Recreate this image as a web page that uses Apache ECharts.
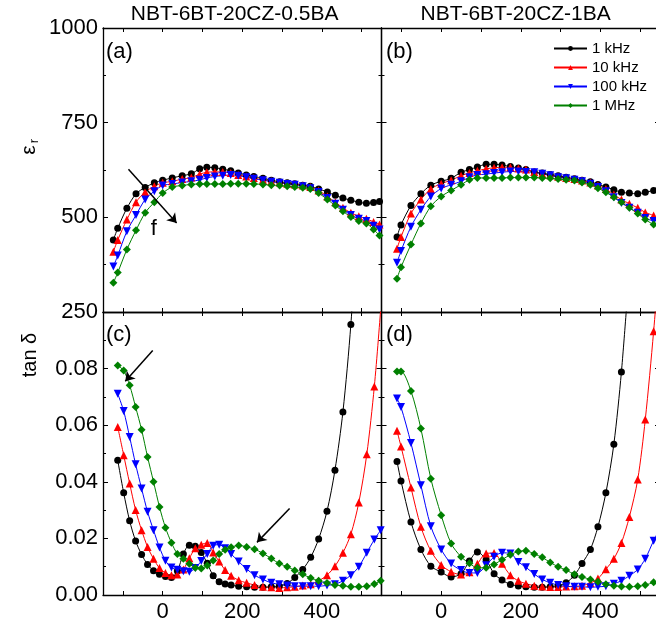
<!DOCTYPE html>
<html>
<head>
<meta charset="utf-8">
<script src="https://cdn.jsdelivr.net/npm/echarts@6/dist/echarts.min.js"></script>
<style>
html, body { margin: 0; padding: 0; background: #fff; }
#main { width: 656px; height: 623px; }
</style>
</head>
<body>
<div id="main"></div>
<script>
// frequencies (legend)
var freqNames = ['1 kHz', '10 kHz', '100 kHz', '1 MHz'];
var panelTitles = ['NBT-6BT-20CZ-0.5BA', 'NBT-6BT-20CZ-1BA'];
var xTickVals = [-100, 0, 100, 200, 300, 400, 500];
var xLabelVals = [0, 200, 400];

// (a) permittivity, NBT-6BT-20CZ-0.5BA
var tempA = [-124, -113, -90, -67, -44, -21, 0, 24, 49, 72, 93, 111, 131, 151, 171, 190, 210, 229, 252, 273, 294, 313, 332, 352, 371, 392, 414, 434, 453, 473, 493, 512, 530, 545];
var epsA1k = [440, 471, 524, 562, 579, 591, 598, 604, 610, 615, 628, 632, 631, 627, 623, 617, 612, 608, 603, 598, 594, 591, 589, 585, 582, 575, 567, 558, 551, 545, 540, 537, 539, 542];
var epsA10k = [409, 440, 494, 540, 567, 582, 591, 595, 601, 605, 614, 619, 620, 620, 617, 612, 608, 604, 599, 595, 592, 589, 587, 584, 580, 571, 555, 540, 525, 512, 503, 496, 488, 481];
var epsA100k = [370, 399, 463, 506, 547, 569, 584, 588, 592, 595, 599, 604, 608, 610, 612, 610, 606, 602, 598, 594, 591, 588, 586, 582, 577, 567, 551, 536, 520, 506, 496, 490, 478, 468];
var epsA1M = [327, 354, 415, 466, 512, 540, 564, 580, 584, 587, 588, 588, 588, 588, 589, 589, 589, 588, 587, 585, 584, 582, 580, 578, 575, 564, 547, 531, 516, 501, 490, 484, 468, 452];

// (b) and (d), NBT-6BT-20CZ-1BA
var tempB = [-111, -101, -76, -51, -26, 0, 25, 50, 71, 91, 113, 133, 153, 174, 194, 213, 234, 254, 274, 294, 314, 335, 354, 375, 394, 414, 434, 453, 473, 494, 513, 534, 552];
var epsB1k = [448, 480, 531, 562, 585, 595, 603, 619, 626, 633, 640, 640, 638, 634, 630, 626, 620, 617, 613, 610, 606, 602, 598, 594, 587, 580, 573, 566, 564, 562, 566, 571];
var epsB10k = [417, 448, 510, 547, 575, 589, 598, 610, 617, 623, 628, 631, 632, 632, 629, 626, 620, 615, 611, 607, 604, 601, 597, 592, 584, 575, 560, 547, 536, 525, 513, 505];
var epsB100k = [380, 411, 475, 520, 555, 576, 586, 595, 606, 612, 614, 617, 619, 621, 621, 620, 619, 615, 611, 606, 603, 599, 595, 589, 580, 569, 553, 538, 525, 512, 498, 490];
var epsB1M = [338, 368, 428, 484, 529, 555, 571, 586, 599, 604, 604, 604, 604, 605, 605, 605, 605, 604, 603, 601, 599, 597, 592, 586, 577, 566, 553, 540, 525, 510, 494, 481];

// (c) loss, NBT-6BT-20CZ-0.5BA
var tempC = [-113, -98, -83, -68, -53, -38, -23, -8, 7, 22, 37, 52, 67, 82, 97, 112, 127, 142, 157, 172, 191, 211, 231, 252, 273, 293, 313, 332, 352, 372, 392, 413, 433, 453, 473, 493, 513, 532, 548];
var tanC1k = [0.0476, 0.0361, 0.0262, 0.0191, 0.0143, 0.0108, 0.0086, 0.0073, 0.0065, 0.0062, 0.0085, 0.0145, 0.0176, 0.0172, 0.0150, 0.0112, 0.0068, 0.0047, 0.0039, 0.0035, 0.0031, 0.0029, 0.0027, 0.0027, 0.0029, 0.0031, 0.0041, 0.0062, 0.0090, 0.0133, 0.0198, 0.0296, 0.0441, 0.0647, 0.0956, 0.14];
var tanC10k = [0.0594, 0.0494, 0.0394, 0.0300, 0.0229, 0.0170, 0.0128, 0.0095, 0.0078, 0.0070, 0.0072, 0.0090, 0.0130, 0.0165, 0.0178, 0.0184, 0.0150, 0.0118, 0.0088, 0.0068, 0.0052, 0.0043, 0.0035, 0.0029, 0.0027, 0.0025, 0.0027, 0.0029, 0.0034, 0.0038, 0.0050, 0.0070, 0.0102, 0.0149, 0.0215, 0.0327, 0.0497, 0.0737, 0.1010];
var tanC100k = [0.0711, 0.0650, 0.0558, 0.0462, 0.0376, 0.0294, 0.0229, 0.0168, 0.0121, 0.0097, 0.0089, 0.0084, 0.0082, 0.0095, 0.0120, 0.0145, 0.0174, 0.0178, 0.0165, 0.0145, 0.0118, 0.0092, 0.0070, 0.0055, 0.0043, 0.0038, 0.0034, 0.0031, 0.0031, 0.0031, 0.0031, 0.0034, 0.0038, 0.0050, 0.0070, 0.0100, 0.0149, 0.0196, 0.0229];
var tanC1M = [0.0811, 0.0793, 0.0741, 0.0664, 0.0584, 0.0488, 0.0400, 0.0311, 0.0238, 0.0185, 0.0145, 0.0128, 0.0110, 0.0096, 0.0094, 0.0104, 0.0122, 0.0145, 0.0160, 0.0169, 0.0175, 0.0170, 0.0162, 0.0147, 0.0129, 0.0111, 0.0100, 0.0087, 0.0073, 0.0060, 0.0050, 0.0042, 0.0035, 0.0033, 0.0029, 0.0029, 0.0031, 0.0039, 0.0050];

// (d) loss, NBT-6BT-20CZ-1BA (temperatures = tempB)
var tanD1k = [0.0472, 0.0403, 0.0258, 0.0161, 0.0102, 0.0081, 0.0064, 0.0075, 0.0120, 0.0152, 0.0125, 0.0075, 0.0053, 0.0037, 0.0032, 0.0029, 0.0027, 0.0027, 0.0029, 0.0033, 0.0043, 0.0070, 0.0111, 0.0161, 0.0241, 0.0361, 0.0533, 0.0788, 0.115];
var tanD10k = [0.0580, 0.0525, 0.0380, 0.0241, 0.0156, 0.0106, 0.0082, 0.0072, 0.0080, 0.0110, 0.0147, 0.0148, 0.0110, 0.0070, 0.0050, 0.0040, 0.0033, 0.0030, 0.0028, 0.0028, 0.0030, 0.0031, 0.0033, 0.0042, 0.0058, 0.0091, 0.0128, 0.0184, 0.0276, 0.0408, 0.0620, 0.0932, 0.125];
var tanD100k = [0.0694, 0.0664, 0.0537, 0.0388, 0.0243, 0.0161, 0.0111, 0.0088, 0.0078, 0.0078, 0.0105, 0.0135, 0.0149, 0.0147, 0.0117, 0.0098, 0.0074, 0.0055, 0.0043, 0.0035, 0.0031, 0.0029, 0.0029, 0.0027, 0.0029, 0.0031, 0.0040, 0.0050, 0.0068, 0.0090, 0.0128, 0.0192, 0.024];
var tanD1M = [0.0790, 0.0790, 0.0721, 0.0588, 0.0411, 0.0282, 0.0182, 0.0135, 0.0112, 0.0096, 0.0096, 0.0108, 0.0125, 0.0142, 0.0154, 0.0156, 0.0145, 0.0133, 0.0115, 0.0100, 0.0088, 0.0073, 0.0064, 0.0055, 0.0047, 0.0038, 0.0033, 0.0030, 0.0029, 0.0031, 0.0035, 0.0045, 0.0055];

// arrows drawn in data coordinates
var arrowA = [[-86, 627], [35, 485]];
var arrowC1 = [[-25, 0.0864], [-94, 0.0755]];
var arrowC2 = [[319, 0.0306], [237, 0.0186]];
var labelF = [-22, 469];

window.onload = function () {
    var myChart = echarts.init(document.getElementById('main'));
    var font = 'Arial, "Liberation Sans", sans-serif';
    var colors = ['#000000', '#ff0000', '#0000ff', '#008000'];
    var symbols = ['circle', 'triangle', 'triangle', 'diamond'];
    var rotates = [0, 0, 180, 0];
    var sizes = [7, 8, 8, 8];

    function pairs(t, v) {
        return v.map(function (y, i) { return [t[i], y]; });
    }

    var grids = [
        {left: 103, top: 28, width: 278.5, height: 284},
        {left: 381.5, top: 28, width: 278.5, height: 284},
        {left: 103, top: 312, width: 278.5, height: 283},
        {left: 381.5, top: 312, width: 278.5, height: 283}
    ].map(function (g) {
        g.containLabel = false;
        g.outerBoundsMode = 'none';
        return g;
    });

    var axisLine = {show: true, onZero: false, lineStyle: {color: '#000', width: 1.3}};

    function xAx(g, pos, showLabel) {
        return {
            type: 'value', gridIndex: g, position: pos, min: -150, max: 550,
            axisLine: axisLine,
            axisTick: {show: true, inside: true, length: 4, customValues: xTickVals, lineStyle: {color: '#000', width: 1}},
            axisLabel: {show: showLabel, customValues: xLabelVals, color: '#000', fontSize: 22, fontFamily: font, margin: 6},
            splitLine: {show: false}
        };
    }

    function yAx(g, pos, isEps, showLabel) {
        return {
            type: 'value', gridIndex: g, position: pos,
            min: isEps ? 250 : 0, max: isEps ? 1000 : 0.1, interval: isEps ? 250 : 0.02,
            axisLine: axisLine,
            axisTick: {show: true, inside: true, length: 5, lineStyle: {color: '#000', width: 1}},
            minorTick: {show: true, splitNumber: 2, length: 3, lineStyle: {color: '#000', width: 1}},
            axisLabel: {
                show: showLabel, color: '#000', fontSize: 22, fontFamily: font, margin: 5,
                formatter: isEps ? function (v) { return String(Math.round(v)); }
                                 : function (v) { return v > 0.099 ? '' : v.toFixed(2); }
            },
            splitLine: {show: false},
            minorSplitLine: {show: false}
        };
    }

    var xAxes = [], yAxes = [];
    for (var g = 0; g < 4; g++) {
        xAxes.push(xAx(g, 'bottom', g >= 2));
        xAxes.push(xAx(g, 'top', false));
        yAxes.push(yAx(g, 'left', g < 2, g === 0 || g === 2));
        yAxes.push(yAx(g, 'right', g < 2, false));
    }

    var panels = [
        {temps: tempA, sets: [epsA1k, epsA10k, epsA100k, epsA1M]},
        {temps: tempB, sets: [epsB1k, epsB10k, epsB100k, epsB1M]},
        {temps: tempC, sets: [tanC1k, tanC10k, tanC100k, tanC1M]},
        {temps: tempB, sets: [tanD1k, tanD10k, tanD100k, tanD1M]}
    ];

    var arrowStyle = {color: '#000', width: 1.5, type: 'solid'};
    function arrowData(a) {
        return [{coord: a[0]}, {coord: a[1]}];
    }

    var series = [];
    panels.forEach(function (p, g) {
        p.sets.forEach(function (vals, k) {
            var s = {
                name: freqNames[k], type: 'line',
                xAxisIndex: 2 * g, yAxisIndex: 2 * g,
                data: pairs(p.temps, vals),
                symbol: symbols[k], symbolSize: sizes[k], symbolRotate: rotates[k],
                smooth: 0.3, clip: true,
                lineStyle: {color: colors[k], width: 1},
                itemStyle: {color: colors[k]}
            };
            if (k === 0 && g === 0) {
                s.markLine = {silent: true, symbol: ['none', 'arrow'], symbolSize: 9,
                    lineStyle: arrowStyle, label: {show: false}, data: [arrowData(arrowA)]};
                s.markPoint = {silent: true, symbol: 'circle', symbolSize: 1,
                    itemStyle: {color: 'rgba(0,0,0,0)'},
                    label: {show: true, position: 'inside', formatter: 'f', color: '#000', fontSize: 22, fontFamily: font},
                    data: [{coord: labelF}]};
            }
            if (k === 0 && g === 2) {
                s.markLine = {silent: true, symbol: ['none', 'arrow'], symbolSize: 9,
                    lineStyle: arrowStyle, label: {show: false},
                    data: [arrowData(arrowC1), arrowData(arrowC2)]};
            }
            series.push(s);
        });
    });

    var txt = function (x, y, text, size, extra) {
        var el = {
            type: 'text', x: x, y: y, silent: true,
            style: {text: text, fill: '#000', fontSize: size, fontFamily: font,
                textAlign: 'left', textVerticalAlign: 'middle', align: 'left', verticalAlign: 'middle'}
        };
        for (var key in extra) { el[key] = extra[key]; }
        return el;
    };
    var centered = function (el) {
        el.style.textAlign = el.style.align = 'center';
        return el;
    };

    var option = {
        backgroundColor: '#fff',
        animation: false,
        grid: grids,
        xAxis: xAxes,
        yAxis: yAxes,
        legend: {
            data: freqNames, orient: 'vertical', left: 553, top: 41, padding: 0,
            itemWidth: 33, itemHeight: 6, itemGap: 4,
            textStyle: {color: '#000', fontSize: 15, fontFamily: font}
        },
        graphic: [
            centered(txt(234.7, 14, panelTitles[0], 21, {})),
            centered(txt(515.7, 14, panelTitles[1], 21, {})),
            txt(106, 52, '(a)', 22, {}),
            txt(386, 52, '(b)', 22, {}),
            txt(106, 335, '(c)', 22, {}),
            txt(386, 335, '(d)', 22, {}),
            centered(txt(29, 150, 'ε', 21, {rotation: Math.PI / 2})),
            centered(txt(34.5, 141, 'r', 13, {rotation: Math.PI / 2})),
            centered(txt(30, 355, 'tan δ', 20, {rotation: Math.PI / 2}))
        ],
        series: series
    };
    myChart.setOption(option);
};
</script>
</body>
</html>
